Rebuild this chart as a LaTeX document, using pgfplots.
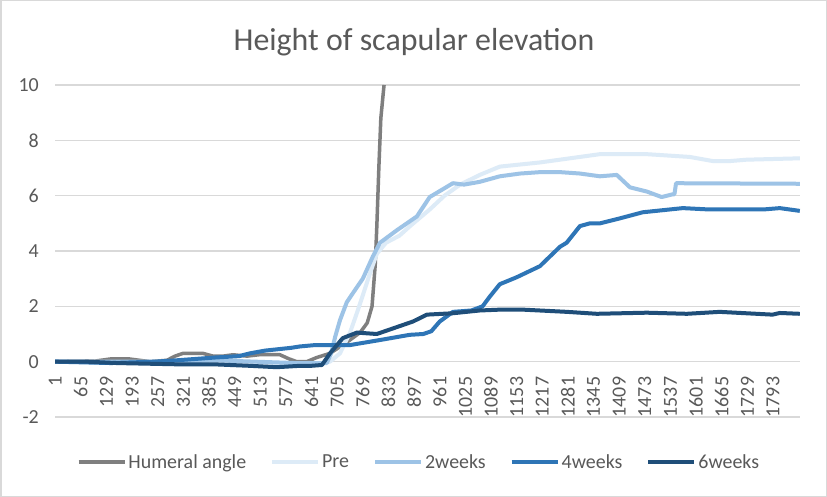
\documentclass[border=0pt]{standalone}
\usepackage{pgfplots}
\pgfplotsset{compat=1.18}
\usepackage{fontspec}
\setmainfont{Carlito}
\definecolor{txt}{HTML}{595959}
\definecolor{gridc}{HTML}{D9D9D9}
\definecolor{cgray}{HTML}{7F7F7F}
\definecolor{cpre}{HTML}{DDEBF7}
\definecolor{c2w}{HTML}{9DC3E6}
\definecolor{c4w}{HTML}{2E75B6}
\definecolor{c6w}{HTML}{1F4E79}
\begin{document}
\begin{tikzpicture}
\useasboundingbox (0,0) rectangle (827bp,497bp);
\fill[white] (0,0) rectangle (827bp,497bp);
\draw[gridc, line width=1.5bp] (0.75bp,0.75bp) rectangle (826.25bp,496.25bp);
\node[font=\fontsize{32}{38}\selectfont, text=txt] at (414bp,455bp) {Height of scapular elevation};
\begin{axis}[
  at={(55bp,80bp)}, anchor=south west, scale only axis,
  width=745bp, height=332bp,
  xmin=0.5, xmax=1860.5, ymin=-2, ymax=10,
  ytick={-2,0,...,10}, xtick={1,65,...,1793},
  axis x line*=middle, axis y line*=left,
  x axis line style={draw=none}, y axis line style={draw=none},
  major tick length=0pt,
  ymajorgrids, grid style={draw=gridc, line width=1.2bp},
  /pgf/number format/.cd, 1000 sep={}, assume math mode=true, /pgfplots/.cd,
  ticklabel style={font=\fontsize{20}{24}\selectfont, text=txt},
  xticklabel style={rotate=90, anchor=east, inner sep=0pt},
  xticklabel shift=15bp,
  yticklabel style={anchor=east, inner sep=0pt},
  yticklabel shift=16bp,
  every axis plot/.append style={line width=4bp, line join=round, no markers},
  legend columns=5,
  legend style={at={(0.4886,-0.1355)}, anchor=center, draw=none, fill=none,
    font=\fontsize{20}{24}\selectfont, text=txt,
    /tikz/every even column/.append style={column sep=22bp},
    nodes={inner sep=2bp}},
  legend image code/.code={\draw[#1] (0bp,0bp) -- (46bp,0bp);},
]
\addplot[cgray, line width=3.5bp] coordinates {
(1,0)(100,0.02)(140,0.1)(185,0.1)(238,0.0)(280,0.05)(300,0.2)(320,0.3)(370,0.3)(395,0.2)(420,0.2)(445,0.25)(480,0.2)(510,0.25)(540,0.25)(562,0.25)(585,0.1)(604,0.0)(629,0.0)(654,0.15)(687,0.3)(729,0.7)(762,1.05)(780,1.4)(792,2.0)(800,3.5)(804,4.9)(809,7.0)(814,8.8)(822,10)
};
\addlegendentry{Humeral angle}
\addplot[cpre] coordinates {
(1,0)(300,-0.05)(600,-0.1)(672,-0.05)(687,0.0)(712,0.3)(737,1.05)(754,1.75)(769,2.4)(787,3.2)(804,3.9)(827,4.3)(860,4.55)(887,4.9)(936,5.5)(973,6.0)(1012,6.4)(1061,6.75)(1111,7.05)(1211,7.2)(1311,7.4)(1361,7.5)(1478,7.5)(1585,7.4)(1643,7.25)(1685,7.25)(1727,7.3)(1860,7.35)
};
\addlegendentry{Pre}
\addplot[c2w] coordinates {
(1,0)(300,0.0)(400,0.05)(500,0.0)(600,-0.05)(679,-0.05)(690,0.3)(700,0.9)(712,1.5)(729,2.15)(750,2.6)(769,3.0)(794,3.8)(812,4.3)(854,4.75)(904,5.25)(936,5.95)(994,6.45)(1022,6.4)(1061,6.5)(1111,6.7)(1162,6.8)(1211,6.85)(1262,6.85)(1311,6.8)(1361,6.7)(1403,6.75)(1436,6.3)(1478,6.15)(1515,5.95)(1543,6.05)(1547,6.05)(1551,6.45)(1860,6.43)
};
\addlegendentry{2weeks}
\addplot[c4w] coordinates {
(1,0)(141,-0.05)(250,0.0)(305,0.05)(400,0.15)(460,0.2)(487,0.3)(525,0.4)(590,0.5)(612,0.55)(650,0.6)(737,0.6)(819,0.8)(886,0.97)(920,1.0)(940,1.1)(961,1.45)(994,1.8)(1040,1.85)(1068,2.0)(1086,2.35)(1111,2.8)(1153,3.05)(1211,3.45)(1261,4.15)(1278,4.3)(1311,4.9)(1336,5.0)(1361,5.0)(1403,5.15)(1468,5.4)(1568,5.55)(1635,5.5)(1768,5.5)(1810,5.55)(1860,5.45)
};
\addlegendentry{4weeks}
\addplot[c6w] coordinates {
(1,0)(80,0.0)(155,-0.05)(320,-0.1)(404,-0.1)(487,-0.15)(554,-0.2)(612,-0.15)(640,-0.15)(667,-0.12)(687,0.3)(719,0.85)(754,1.05)(804,1.0)(844,1.2)(894,1.45)(929,1.7)(994,1.75)(1061,1.85)(1111,1.88)(1169,1.88)(1279,1.8)(1353,1.73)(1478,1.77)(1578,1.73)(1660,1.8)(1752,1.73)(1792,1.7)(1810,1.76)(1860,1.73)
};
\addlegendentry{6weeks}
\end{axis}
\end{tikzpicture}
\end{document}
